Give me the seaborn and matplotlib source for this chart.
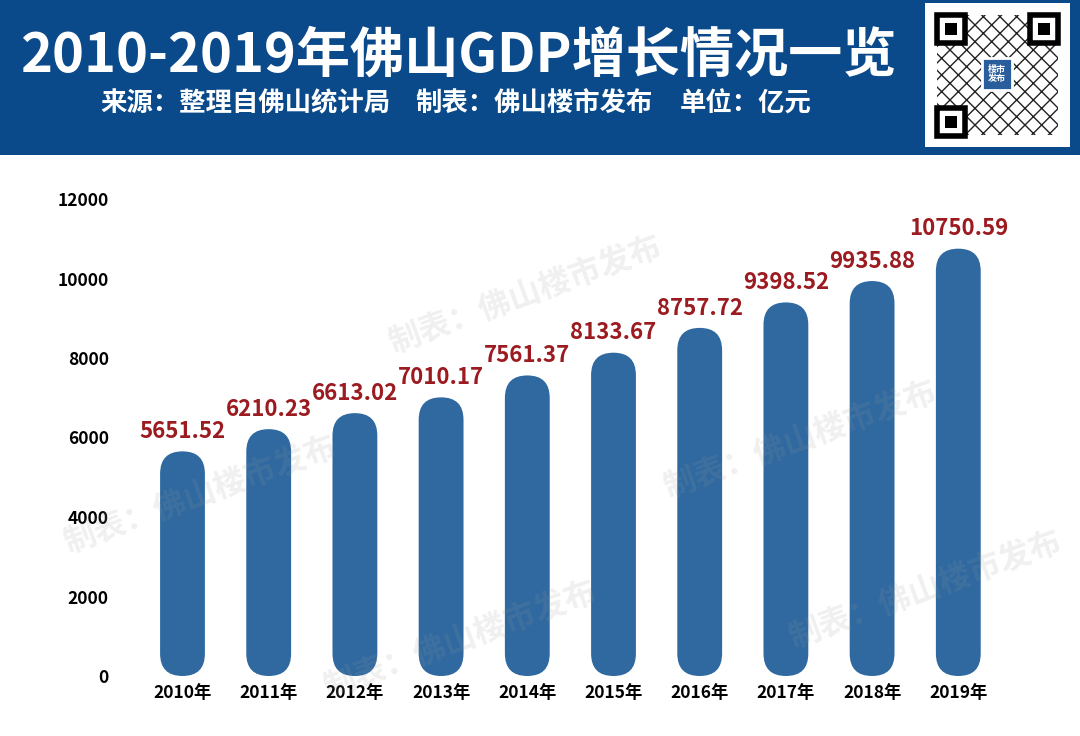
import matplotlib
matplotlib.use('Agg')
import matplotlib.pyplot as plt
from matplotlib.patches import Rectangle, FancyBboxPatch
import seaborn as sns

# data (unit: 亿元)
years = ['2010年', '2011年', '2012年', '2013年', '2014年',
         '2015年', '2016年', '2017年', '2018年', '2019年']
gdp = [5651.52, 6210.23, 6613.02, 7010.17, 7561.37,
       8133.67, 8757.72, 9398.52, 9935.88, 10750.59]
yticks = [0, 2000, 4000, 6000, 8000, 10000, 12000]

title = '2010-2019年佛山GDP增长情况一览'
sub_parts = ['来源：整理自佛山统计局', '制表：佛山楼市发布', '单位：亿元']
watermark = '制表：佛山楼市发布'

HEADER = '#0b4a8a'
BAR = '#2f69a0'
LABEL = '#9b1b20'

sns.set_theme(style='white')
plt.rcParams['font.family'] = ['Noto Sans CJK SC', 'DejaVu Sans']
plt.rcParams['font.weight'] = 'bold'

W, H = 1080, 736
fig = plt.figure(figsize=(W / 100, H / 100), dpi=100)
fig.patch.set_facecolor('white')


def fx(px):
    return px / W


def fy(py):
    return 1 - py / H


# header band
fig.patches.append(Rectangle((0, fy(155)), 1, 155 / H, transform=fig.transFigure,
                             facecolor=HEADER, edgecolor='none', zorder=0))
fig.text(fx(458), fy(56), title, color='white', fontsize=39, fontweight='bold',
         ha='center', va='center')
for x0, part in zip([100, 415, 680], sub_parts):
    fig.text(fx(x0), fy(104), part, color='white', fontsize=19, fontweight='bold',
             ha='left', va='center')

# QR-like badge on the right
fig.patches.append(Rectangle((fx(925), fy(147)), 145 / W, 144 / H, transform=fig.transFigure,
                             facecolor='white', edgecolor='none', zorder=1))
fig.patches.append(Rectangle((fx(937), fy(135)), 121 / W, 120 / H, transform=fig.transFigure,
                             facecolor='white', edgecolor='#222222', hatch='xx', lw=0, zorder=1))
for qx, qy in [(937, 15), (1030, 15), (937, 108)]:
    fig.patches.append(Rectangle((fx(qx), fy(qy + 28)), 28 / W, 28 / H, transform=fig.transFigure,
                                 facecolor='white', edgecolor='black', lw=4, zorder=2))
    fig.patches.append(Rectangle((fx(qx + 8), fy(qy + 20)), 12 / W, 12 / H, transform=fig.transFigure,
                                 facecolor='black', edgecolor='none', zorder=2))
fig.patches.append(Rectangle((fx(982), fy(90)), 30 / W, 32 / H, transform=fig.transFigure,
                             facecolor='#2a5d9c', edgecolor='white', lw=2, zorder=2))
fig.text(fx(997), fy(74), '楼市\n发布', color='white', fontsize=6.5, ha='center', va='center',
         linespacing=1.1, zorder=3)

# main axes: x slot 86.2 px, first bar centre at 182.5 px; y 0 at 676 px, 12000 at 199 px
ymax = 12400
ax_h = 477 / 12000 * ymax
ax = fig.add_axes([fx(139.4), 60 / H, 862 / W, ax_h / H])
sns.barplot(x=years, y=gdp, color=BAR, width=0.52, saturation=1, ax=ax)
ax.set_xlim(-0.5, 9.5)
ax.set_ylim(0, ymax)

# turn the plain bars into pills
y_per_px = ymax / ax_h
x_per_px = 10 / 862
for p in list(ax.patches):
    x, w, h = p.get_x(), p.get_width(), p.get_height()
    p.set_visible(False)
    pill = FancyBboxPatch((x, 0), w, h,
                          boxstyle=f'round,pad=0,rounding_size={w / 2}',
                          mutation_aspect=y_per_px / x_per_px,
                          facecolor=BAR, edgecolor='none', zorder=2)
    ax.add_patch(pill)
    ax.annotate(f'{h:.2f}', (x + w / 2, h), xytext=(0, 6), textcoords='offset points',
                ha='center', va='bottom', color=LABEL, fontsize=16, fontweight='bold')

ax.set_yticks(yticks)
ax.set_yticklabels([str(t) for t in yticks], fontsize=12.5, fontweight='bold', color='black')
ax.tick_params(axis='y', length=0, pad=22)
ax.tick_params(axis='x', length=0, pad=6, labelsize=12.5, labelcolor='black')
for lab in ax.get_xticklabels():
    lab.set_fontweight('bold')
ax.set_xlabel('')
ax.set_ylabel('')
ax.grid(False)
sns.despine(ax=ax, left=True, bottom=True)

# faint diagonal watermarks
for cx, cy in [(525, 295), (200, 495), (460, 640), (800, 440), (925, 590)]:
    fig.text(fx(cx), fy(cy), watermark, color='#9a9a9a', alpha=0.15, fontsize=23,
             rotation=20, ha='center', va='center', zorder=5)

fig.savefig('out.png', dpi=100)
